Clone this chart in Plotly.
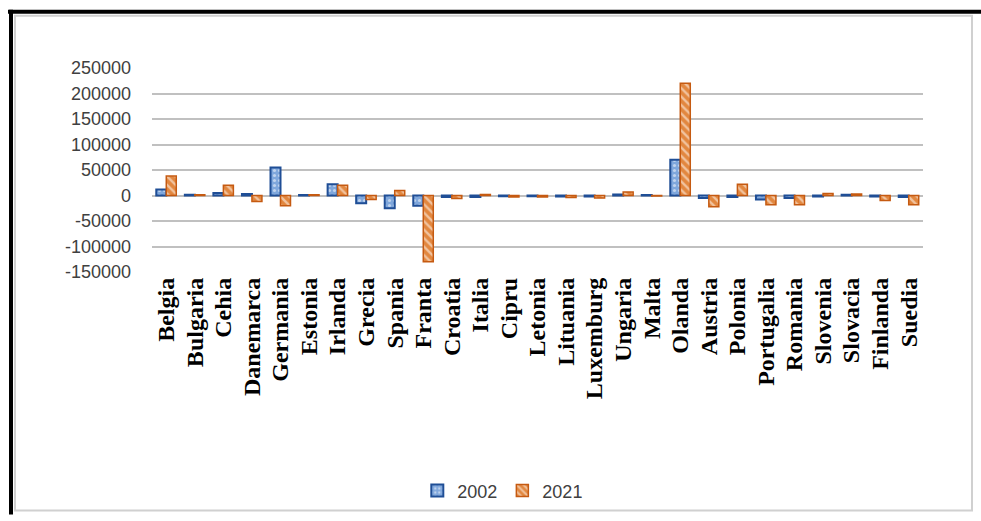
import plotly.graph_objects as go

# Data: balance by country for 2002 and 2021
countries = ["Belgia", "Bulgaria", "Cehia", "Danemarca", "Germania", "Estonia",
             "Irlanda", "Grecia", "Spania", "Franta", "Croatia", "Italia", "Cipru",
             "Letonia", "Lituania", "Luxemburg", "Ungaria", "Malta", "Olanda",
             "Austria", "Polonia", "Portugalia", "Romania", "Slovenia", "Slovacia",
             "Finlanda", "Suedia"]
values_2002 = [12000, 1500, 5000, 3000, 55000, 1000, 22000, -15000, -25000, -20000,
               -3000, -3000, -1500, -1500, -2000, -2000, 2000, 1000, 70000, -5000,
               -3000, -8000, -5000, -2000, 1500, -2000, -3000]
values_2021 = [38000, 1500, 20000, -12000, -20000, 1500, 20000, -8000, 10000, -130000,
               -6000, 2000, -3000, -3000, -4000, -5000, 7000, -1000, 220000, -22000,
               22000, -18000, -18000, 4000, 3000, -10000, -18000]
y_ticks = [-150000, -100000, -50000, 0, 50000, 100000, 150000, 200000, 250000]

W, H = 981, 521
L, R, T, B = 152, 58, 68, 246
PW, PH = W - L - R, H - T - B


def px(x):
    return (x - L) / PW


def py(y):
    return (H - B - y) / PH


fig = go.Figure()
fig.add_trace(go.Bar(
    x=countries, y=values_2002, name="2002",
    marker=dict(color="#7FA7DC", line=dict(color="#1F4E96", width=2),
                pattern=dict(shape=".", fgcolor="#FFFFFF", bgcolor="#7FA7DC",
                             size=5, solidity=0.3)),
))
fig.add_trace(go.Bar(
    x=countries, y=values_2021, name="2021",
    marker=dict(color="#E2873F", line=dict(color="#C55A11", width=1.5),
                pattern=dict(shape="\\", fgcolor="#FFFFFF", bgcolor="#E2873F",
                             size=6, solidity=0.4)),
))

shapes = [
    # inner light frame of the chart area
    dict(type="rect", xref="paper", yref="paper",
         x0=px(15), x1=px(972), y0=py(517), y1=py(15),
         line=dict(color="#D0D0D0", width=2), layer="below"),
    # heavy black frame on top and left
    dict(type="line", xref="paper", yref="paper",
         x0=px(8), x1=px(981), y0=py(11), y1=py(11),
         line=dict(color="#000000", width=4)),
    dict(type="line", xref="paper", yref="paper",
         x0=px(11), x1=px(11), y0=py(9), y1=py(521),
         line=dict(color="#000000", width=4)),
]

fig.update_layout(
    width=W, height=H,
    margin=dict(l=L, r=R, t=T, b=B),
    paper_bgcolor="#FFFFFF", plot_bgcolor="#FFFFFF",
    barmode="group", bargap=0.3, bargroupgap=0.0,
    shapes=shapes,
    showlegend=True,
    legend=dict(orientation="h", x=0.455, xanchor="center", y=py(497),
                yanchor="middle", font=dict(family="Liberation Sans", size=18,
                                            color="#404040"),
                itemwidth=30, traceorder="normal"),
    xaxis=dict(showgrid=False, showline=False, zeroline=False, ticks="",
               tickmode="array", tickvals=countries, ticktext=countries,
               tickangle=-90,
               tickfont=dict(family="Liberation Serif", size=24, color="#000000",
                             weight="bold"),
               range=[-0.5, len(countries) - 0.5]),
    yaxis=dict(range=[-150000, 250000], tickvals=y_ticks,
               ticktext=[str(v) for v in y_ticks],
               showgrid=True, gridcolor="#C0C0C0", gridwidth=2,
               zeroline=True, zerolinecolor="#C0C0C0", zerolinewidth=2,
               showline=False, ticks="", ticklabelstandoff=20,
               tickfont=dict(family="Liberation Sans", size=18, color="#404040")),
)

fig.write_html("out.html")
